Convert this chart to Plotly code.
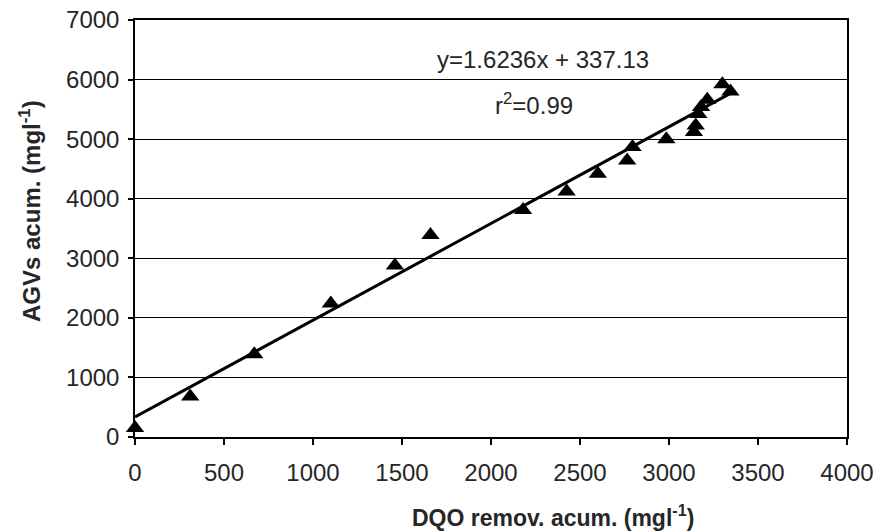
import numpy as np
import plotly.graph_objects as go

# Accumulated COD removal (x) vs accumulated VFA (y), mg/l
dqo_remov = [0, 310, 670, 1100, 1460, 1660, 2180, 2425, 2600, 2765, 2795,
             2985, 3140, 3150, 3165, 3180, 3215, 3300, 3345]
agv_acum = [150, 680, 1390, 2240, 2880, 3390, 3810, 4120, 4420, 4640, 4870,
            5000, 5120, 5230, 5420, 5540, 5660, 5920, 5800]

# Linear regression reported for the series
slope = 1.6236
intercept = 337.13
r2 = 0.99

x_ticks = [0, 500, 1000, 1500, 2000, 2500, 3000, 3500, 4000]
y_ticks = [0, 1000, 2000, 3000, 4000, 5000, 6000, 7000]

fit_x = np.array([min(dqo_remov), max(dqo_remov)])
fit_y = slope * fit_x + intercept

font = "Liberation Sans, Arial, sans-serif"
text_col = "#262626"

# page and plot-area geometry in pixels
W, H = 875, 531
pl, pr, pt, pb = 135, 28, 20, 94
pw, ph = W - pl - pr, H - pt - pb


def px_to_paper(px, py):
    return (px - pl) / pw, 1 - (py - pt) / ph


fig = go.Figure()
fig.add_trace(go.Scatter(
    x=fit_x, y=fit_y, mode="lines",
    line=dict(color="black", width=3),
    showlegend=False, hoverinfo="skip",
))
fig.add_trace(go.Scatter(
    x=dqo_remov, y=agv_acum, mode="markers",
    marker=dict(symbol="triangle-up", size=16, color="black"),
    cliponaxis=False, showlegend=False,
))

xt_x, xt_y = px_to_paper(553, 516)
yt_x, yt_y = px_to_paper(30, 211)

fig.update_layout(
    width=W, height=H,
    margin=dict(l=pl, r=pr, t=pt, b=pb),
    paper_bgcolor="white", plot_bgcolor="white",
    font=dict(family=font, size=24, color=text_col),
    xaxis=dict(
        range=[0, 4000], tickvals=x_ticks, ticktext=[str(v) for v in x_ticks],
        showgrid=False, zeroline=False, automargin=False,
        showline=True, linecolor="black", linewidth=1.5, mirror=True,
        ticks="outside", ticklen=6, tickcolor="black", tickwidth=1.5,
        ticklabelstandoff=7,
        tickfont=dict(family=font, size=24, color=text_col),
    ),
    yaxis=dict(
        range=[0, 7000], tickvals=y_ticks, ticktext=[str(v) for v in y_ticks],
        showgrid=True, gridcolor="black", gridwidth=1,
        zeroline=False, automargin=False,
        showline=True, linecolor="black", linewidth=1.5, mirror=True,
        ticks="outside", ticklen=5, tickcolor="black", tickwidth=1.5,
        ticklabelstandoff=4,
        tickfont=dict(family=font, size=24, color=text_col),
    ),
    annotations=[
        dict(text=f"y={slope}x + {intercept}", x=2290, y=6329,
             xref="x", yref="y", showarrow=False,
             font=dict(family=font, size=24, color=text_col)),
        dict(text=f"r<sup>2</sup>={r2}", x=2240, y=5590,
             xref="x", yref="y", showarrow=False,
             font=dict(family=font, size=24, color=text_col)),
        dict(text="<b>DQO remov. acum. (mgl<sup>-1</sup>)</b>",
             x=xt_x, y=xt_y, xref="paper", yref="paper",
             xanchor="center", yanchor="middle", showarrow=False,
             font=dict(family=font, size=23, color=text_col)),
        dict(text="<b>AGVs acum. (mgl<sup>-1</sup>)</b>",
             x=yt_x, y=yt_y, xref="paper", yref="paper", textangle=-90,
             xanchor="center", yanchor="middle", showarrow=False,
             font=dict(family=font, size=24, color=text_col)),
    ],
)

fig.write_html("out.html")
